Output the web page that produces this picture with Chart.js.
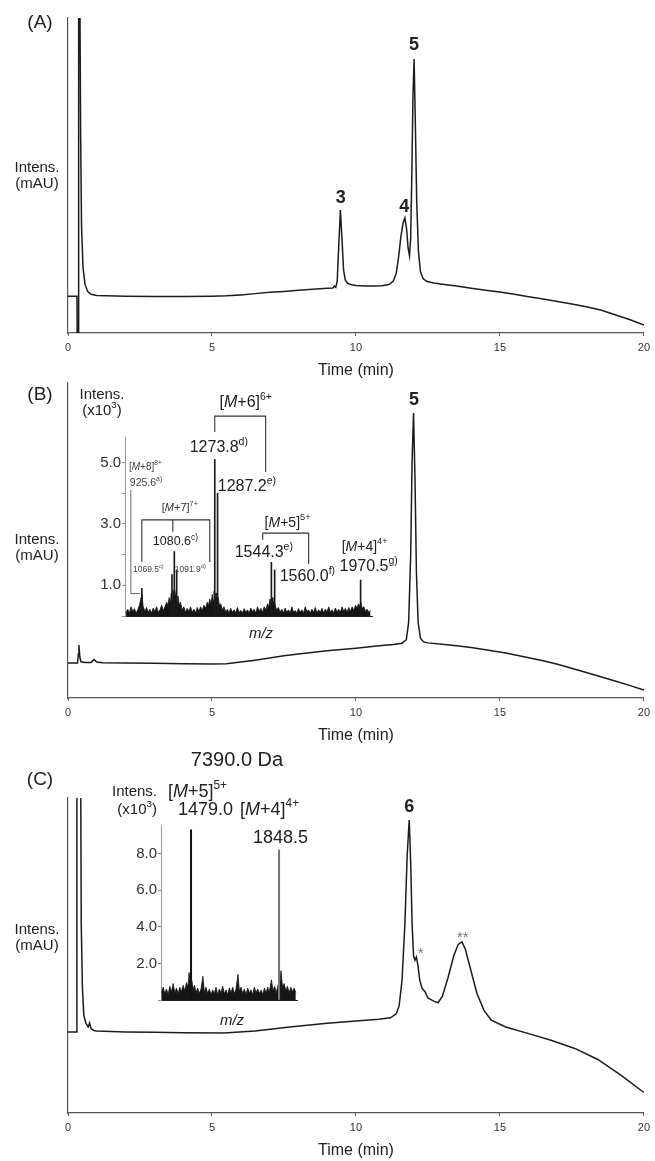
<!DOCTYPE html>
<html>
<head>
<meta charset="utf-8">
<script src="https://cdn.jsdelivr.net/npm/chart.js@4.4.0/dist/chart.umd.min.js"></script>
<style>
  html, body { margin: 0; padding: 0; background: #fff; }
  #wrap { position: relative; width: 655px; height: 1161px; overflow: hidden; }
  canvas { position: absolute; }
</style>
</head>
<body>
<div id="wrap">
  <canvas id="chromA"></canvas>
  <canvas id="chromB"></canvas>
  <canvas id="chromC"></canvas>
  <canvas id="specB"></canvas>
  <canvas id="specC"></canvas>
</div>
<script>
// ---- data ----
const timeTicks = [0, 5, 10, 15, 20];

// (A) UV trace, mAU in arbitrary units (0..100 = full axis height)
const timeA = [0, 0.31, 0.32, 0.35, 0.37, 0.41, 0.44, 0.47, 0.52, 0.59, 0.68, 0.8, 1.0, 2.0, 3.0, 4.0, 5.0, 5.5, 6.0, 6.5,
  7.0, 7.5, 8.0, 8.5, 9.0, 9.2, 9.25, 9.3, 9.35, 9.4, 9.46, 9.52, 9.57, 9.63, 9.72, 9.85, 10.0, 10.3, 10.6, 10.9,
  11.15, 11.3, 11.4, 11.48, 11.56, 11.64, 11.7, 11.76, 11.81, 11.86, 11.9, 11.94, 11.98, 12.02, 12.06, 12.11, 12.17, 12.24, 12.33, 12.45,
  12.7, 13.0, 13.5, 14.0, 14.5, 15.0, 15.5, 16.0, 16.5, 17.0, 17.5, 18.0, 18.5, 19.0, 19.5, 20.0];
const intensA = [11.7, 11.7, 0, 0, 110, 110, 62, 34, 21, 15.5, 13.2, 12.3, 11.9, 11.7, 11.6, 11.6, 11.7, 11.8, 12.1, 12.5,
  12.9, 13.2, 13.6, 13.9, 14.2, 14.3, 14.9, 14.5, 16.5, 27, 39, 29, 20, 16.8, 15.7, 15.3, 15.1, 14.9, 14.9, 15.0,
  15.4, 16.5, 19, 24, 30.5, 35, 36.5, 33, 27, 24.5, 30, 50, 75, 87, 68, 42, 26, 19.5, 17.3, 16.4,
  15.9, 15.5, 14.9, 14.2, 13.6, 13.0, 12.3, 11.5, 10.8, 10.0, 9.2, 8.3, 7.3, 5.8, 4.3, 2.5];

// (B)
const timeB = [0, 0.33, 0.36, 0.38, 0.41, 0.45, 0.6, 0.8, 0.9, 1.0, 1.2, 2.0, 3.0, 4.0, 5.0, 5.5, 6.0, 6.5, 7.0, 7.5,
  8.0, 9.0, 10.0, 10.8, 11.3, 11.6, 11.75, 11.83, 11.9, 11.95, 12.0, 12.05, 12.1, 12.16, 12.24, 12.35, 12.5, 13.0, 13.5, 14.0,
  14.5, 15.2, 16.0, 16.5, 17.0, 17.7, 18.3, 19.0, 19.5, 20.0];
const intensB = [11.1, 11.1, 14, 16.8, 13, 11.5, 11.3, 11.3, 12.2, 11.4, 11.2, 11.1, 11.0, 10.9, 10.8, 10.9, 11.4, 12.0, 12.7, 13.4,
  14.0, 15.0, 15.8, 16.6, 17.0, 17.4, 18.5, 24, 45, 75, 90.5, 70, 40, 24, 19, 17.8, 17.5, 17.1, 16.6, 16.0,
  15.3, 14.3, 12.8, 11.8, 10.7, 8.9, 7.3, 5.4, 4.0, 2.5];

// (C)
const timeC = [0, 0.30, 0.31, 0.44, 0.46, 0.5, 0.55, 0.62, 0.7, 0.75, 0.8, 0.9, 1.0, 2.0, 3.0, 4.0, 5.4, 6.5, 7.7, 9.0,
  10.0, 10.8, 11.2, 11.4, 11.5, 11.6, 11.7, 11.78, 11.85, 11.9, 11.95, 12.0, 12.05, 12.1, 12.15, 12.22, 12.3, 12.4, 12.5, 12.7,
  12.85, 13.0, 13.2, 13.4, 13.55, 13.68, 13.8, 14.0, 14.2, 14.45, 14.7, 15.2, 16.0, 16.8, 17.6, 18.4, 19.2, 20.0];
const intensC = [25.7, 25.7, 110, 110, 60, 40, 31, 28.5, 27.3, 28.6, 26.8, 26.2, 26.0, 25.7, 25.6, 25.5, 25.4, 26.0, 27.3, 28.5,
  29.2, 29.8, 30.2, 31.5, 34, 42, 60, 82, 93, 80, 60, 50, 48.5, 49.5, 47, 42, 39.5, 38.5, 36.5, 35.5,
  35, 37, 43, 50, 53.5, 54.3, 52, 45, 38, 32.5, 29.5, 27.3, 25.2, 23, 20.5, 17, 12, 6.5];

// inset (B) mass spectrum, intensity x10^3
const mzB = [925.6, 1069.5, 1080.6, 1091.9, 1273.8, 1287.2, 1544.3, 1560.0, 1970.5];
const relB = [0.9, 1.35, 2.1, 1.5, 5.1, 4.0, 1.75, 1.5, 1.17];
const noiseB = [[850, .12], [858, .22], [866, .1], [874, .3], [882, .15], [890, .24], [898, .1], [906, .2], [914, .35], [920, .55],
  [926, .7], [932, .3], [940, .15], [948, .28], [956, .12], [964, .22], [972, .1], [980, .26], [988, .14], [996, .3],
  [1004, .12], [1012, .2], [1020, .35], [1028, .18], [1036, .3], [1044, .45], [1050, .35], [1056, .6], [1062, .4], [1066, .75],
  [1070, .5], [1074, .85], [1078, .55], [1082, .9], [1086, .6], [1090, .8], [1094, .5], [1098, .65], [1104, .35], [1110, .45],
  [1118, .2], [1126, .3], [1134, .12], [1142, .25], [1150, .15], [1158, .3], [1166, .12], [1174, .22], [1182, .1], [1190, .28],
  [1198, .15], [1206, .3], [1214, .18], [1222, .35], [1230, .25], [1238, .45], [1244, .35], [1250, .55], [1256, .4], [1262, .7],
  [1266, .5], [1270, .8], [1276, .6], [1280, .75], [1284, .5], [1290, .6], [1296, .35], [1302, .4], [1310, .2], [1318, .3],
  [1326, .12], [1334, .22], [1342, .1], [1350, .25], [1358, .12], [1366, .2], [1374, .1], [1382, .28], [1390, .12], [1398, .18],
  [1406, .1], [1414, .24], [1422, .12], [1430, .2], [1438, .1], [1446, .26], [1454, .14], [1462, .22], [1470, .1], [1478, .3],
  [1486, .15], [1494, .25], [1502, .12], [1510, .3], [1518, .2], [1526, .4], [1532, .3], [1538, .55], [1542, .4], [1548, .6],
  [1552, .35], [1558, .5], [1564, .3], [1570, .2], [1578, .28], [1586, .12], [1594, .22], [1602, .1], [1610, .26], [1618, .12],
  [1626, .2], [1634, .1], [1642, .3], [1650, .12], [1658, .18], [1666, .1], [1674, .24], [1682, .12], [1690, .2], [1698, .1],
  [1706, .3], [1714, .14], [1722, .2], [1730, .1], [1738, .22], [1746, .12], [1754, .28], [1762, .1], [1770, .2], [1778, .12],
  [1786, .25], [1794, .1], [1802, .22], [1810, .14], [1818, .3], [1826, .12], [1834, .2], [1842, .1], [1850, .26], [1858, .14],
  [1866, .22], [1874, .12], [1882, .3], [1890, .15], [1898, .25], [1906, .12], [1914, .28], [1922, .15], [1930, .3], [1938, .18],
  [1946, .35], [1954, .25], [1960, .4], [1966, .3], [1972, .45], [1978, .25], [1986, .3], [1994, .15], [2002, .22], [2010, .12],
  [2018, .18]];
const ticksB = [0, 1, 2, 3, 4, 5];

// inset (C) mass spectrum, intensity x10^3
const mzC = [1479.0, 1848.5];
const relC = [9.3, 8.2];
const noiseC = [[1355, .4], [1362, .7], [1369, .35], [1376, .6], [1383, .3], [1390, .75], [1397, .45], [1404, .9], [1411, .4], [1418, .65],
  [1425, .35], [1432, .7], [1439, .45], [1446, .8], [1453, .5], [1460, .95], [1466, .7], [1471, 1.5], [1476, .9], [1482, 1.1],
  [1488, .6], [1494, .8], [1500, .4], [1507, .65], [1514, .35], [1521, .6], [1529, 1.3], [1535, .4], [1542, .7], [1549, .35],
  [1556, .6], [1563, .3], [1570, .55], [1577, .35], [1584, .7], [1591, .3], [1598, .6], [1605, .4], [1612, .75], [1619, .35],
  [1626, .55], [1633, .3], [1640, .65], [1647, .4], [1654, .7], [1661, .35], [1668, .6], [1676, 1.4], [1682, .5], [1689, .7],
  [1696, .35], [1703, .6], [1710, .3], [1717, .65], [1724, .4], [1731, .55], [1738, .3], [1745, .7], [1752, .4], [1759, .6],
  [1766, .35], [1773, .55], [1780, .3], [1787, .65], [1794, .4], [1801, .7], [1808, .45], [1817, 1.1], [1823, .5], [1830, .75],
  [1837, .4], [1844, .8], [1850, .6], [1857, 1.6], [1863, .7], [1870, .9], [1877, .5], [1884, .75], [1891, .4], [1898, .7],
  [1905, .45], [1912, .65], [1919, .4]];
const ticksC = [0, 2, 4, 6, 8];

// ---- drawing helpers ----
const FONT = '"Liberation Sans", Arial, Helvetica, sans-serif';
Chart.defaults.font.family = FONT;

// ~italic~ and ^superscript^
function parseRich(str) {
  const parts = [];
  let mode = '', buf = '';
  for (const ch of str) {
    if (ch === '~' || ch === '^') {
      if (buf) parts.push([buf, mode]);
      buf = '';
      const m = ch === '~' ? 'i' : 's';
      mode = mode === m ? '' : m;
    } else {
      buf += ch;
    }
  }
  if (buf) parts.push([buf, mode]);
  return parts;
}

function drawRich(ctx, str, x, y, o) {
  const size = o.size || 15;
  const parts = parseRich(str);
  const fontFor = m => (m === 'i' ? 'italic ' : '') + (o.bold ? 'bold ' : '') + (m === 's' ? size * 0.66 : size) + 'px ' + FONT;
  let w = 0;
  for (const [t, m] of parts) { ctx.font = fontFor(m); w += ctx.measureText(t).width; }
  let cx = o.align === 'left' ? x : o.align === 'right' ? x - w : x - w / 2;
  ctx.fillStyle = o.color || '#222';
  ctx.textAlign = 'left';
  ctx.textBaseline = 'middle';
  for (const [t, m] of parts) {
    ctx.font = fontFor(m);
    ctx.fillText(t, cx, m === 's' ? y - size * 0.36 : y);
    cx += ctx.measureText(t).width;
  }
}

// notes: text or bracket paths, either in data units or page pixels
function notesPlugin(notes, pos) {
  return {
    id: 'notes',
    afterDraw(chart) {
      const ctx = chart.ctx;
      const sx = chart.scales.x, sy = chart.scales.y;
      const toPx = (p, page) => page ? [p[0] - pos.left, p[1] - pos.top]
        : [sx.getPixelForValue(p[0]), sy.getPixelForValue(p[1])];
      ctx.save();
      for (const n of notes) {
        if (n.path) {
          ctx.beginPath();
          n.path.forEach((p, i) => {
            const [px, py] = toPx(p, n.page);
            if (i) ctx.lineTo(px, py); else ctx.moveTo(px, py);
          });
          ctx.strokeStyle = n.color || '#333';
          ctx.lineWidth = n.width || 1.1;
          ctx.stroke();
        } else {
          const [px, py] = toPx(n.at, n.page);
          drawRich(ctx, n.text, px, py, n);
        }
      }
      ctx.restore();
    }
  };
}

function place(cv, pos) {
  cv.width = pos.width;
  cv.height = pos.height;
  cv.style.left = pos.left + 'px';
  cv.style.top = pos.top + 'px';
}

function chromatogram(id, pos, times, values, notes) {
  const cv = document.getElementById(id);
  place(cv, pos);
  return new Chart(cv, {
    type: 'line',
    data: {
      datasets: [{
        data: times.map((t, i) => ({ x: t, y: values[i] })),
        borderColor: '#1c1c1c',
        borderWidth: 1.5,
        pointRadius: 0,
        tension: 0,
        fill: false
      }]
    },
    options: {
      responsive: false,
      animation: false,
      events: [],
      layout: { padding: { top: pos.padTop, right: 7, left: 0, bottom: 0 } },
      plugins: { legend: { display: false }, tooltip: { enabled: false } },
      scales: {
        x: {
          type: 'linear',
          min: 0,
          max: 20,
          afterBuildTicks: s => { s.ticks = timeTicks.map(v => ({ value: v })); },
          afterFit: s => { s.height = 52; },
          grid: { drawOnChartArea: false, tickLength: 3, color: '#666' },
          border: { color: '#555', width: 1.2 },
          ticks: { color: '#333', font: { size: 11 }, padding: 5, maxRotation: 0, autoSkip: false, callback: v => String(v) },
          title: { display: true, text: 'Time (min)', color: '#222', font: { size: 16 }, padding: { top: 0, bottom: 5 } }
        },
        y: {
          min: 0,
          max: 100,
          afterFit: s => { s.width = 68; },
          grid: { display: false },
          border: { color: '#555', width: 1.2 },
          ticks: { display: false }
        }
      }
    },
    plugins: [notesPlugin(notes, pos)]
  });
}

function spectrum(id, pos, mz, rel, stickColors, stickWidth, noise, range, ticks, tickLabel, notes) {
  const cv = document.getElementById(id);
  place(cv, pos);
  return new Chart(cv, {
    type: 'line',
    data: {
      datasets: [
        {
          type: 'bar',
          data: mz.map((m, i) => ({ x: m, y: rel[i] })),
          backgroundColor: stickColors,
          barThickness: stickWidth,
          order: 1
        },
        {
          type: 'line',
          data: noise.map(p => ({ x: p[0], y: p[1] })),
          borderColor: '#151515',
          backgroundColor: '#151515',
          borderWidth: 0.8,
          pointRadius: 0,
          tension: 0,
          fill: 'origin',
          order: 2
        }
      ]
    },
    options: {
      responsive: false,
      animation: false,
      events: [],
      layout: { padding: { top: pos.padTop, right: pos.padRight, left: 0, bottom: 0 } },
      plugins: { legend: { display: false }, tooltip: { enabled: false } },
      scales: {
        x: {
          type: 'linear',
          min: range.mzMin,
          max: range.mzMax,
          offset: false,
          afterFit: s => { s.height = pos.xHeight; },
          grid: { display: false, offset: false },
          border: { color: '#222', width: 1 },
          ticks: { display: false }
        },
        y: {
          min: 0,
          max: range.yMax,
          afterBuildTicks: s => { s.ticks = ticks.map(v => ({ value: v })); },
          afterFit: s => { s.width = pos.yWidth; },
          grid: { drawOnChartArea: false, tickLength: 3, color: '#888' },
          border: { color: '#999', width: 1 },
          ticks: { color: '#333', font: { size: 15 }, padding: 1, callback: tickLabel }
        }
      }
    },
    plugins: [notesPlugin(notes, pos)]
  });
}

// ---- panels ----
const posA = { left: 0, top: 0, width: 655, height: 385, padTop: 18 };
chromatogram('chromA', posA, timeA, intensA, [
  { text: '(A)', at: [40, 23], page: true, size: 19 },
  { text: 'Intens.', at: [37, 168], page: true, size: 15 },
  { text: '(mAU)', at: [37, 184], page: true, size: 15 },
  { text: '3', at: [9.47, 42.8], size: 18, bold: true },
  { text: '4', at: [11.68, 40], size: 18, bold: true },
  { text: '5', at: [12.02, 91.4], size: 18, bold: true }
]);

const posB = { left: 0, top: 355, width: 655, height: 395, padTop: 28 };
chromatogram('chromB', posB, timeB, intensB, [
  { text: '(B)', at: [40, 395], page: true, size: 19 },
  { text: 'Intens.', at: [37, 540], page: true, size: 15 },
  { text: '(mAU)', at: [37, 556], page: true, size: 15 },
  { text: '5', at: [12.02, 94.6], size: 18, bold: true }
]);

const posC = { left: 0, top: 750, width: 655, height: 415, padTop: 48 };
chromatogram('chromC', posC, timeC, intensC, [
  { text: '(C)', at: [40, 780], page: true, size: 19 },
  { text: 'Intens.', at: [37, 930], page: true, size: 15 },
  { text: '(mAU)', at: [37, 946], page: true, size: 15 },
  { text: '6', at: [11.85, 97.1], size: 18, bold: true },
  { text: '*', at: [12.25, 50.5], size: 15, color: '#777' },
  { text: '**', at: [13.71, 55.6], size: 15, color: '#777' }
]);

const posSB = { left: 60, top: 380, width: 360, height: 270, padTop: 57, padRight: 48, yWidth: 65, xHeight: 34 };
spectrum('specB', posSB, mzB, relB, '#1a1a1a', 1, noiseB, { mzMin: 845, mzMax: 2025, yMax: 5.83 }, ticksB,
  v => (v % 2 === 1 ? v.toFixed(1) : ''), [
  { text: 'Intens.', at: [102, 395], page: true, size: 15 },
  { text: '(x10^3^)', at: [102, 411], page: true, size: 15 },
  { text: '~m/z~', at: [261, 634], page: true, size: 15 },
  { text: '[~M~+6]^6+^', at: [1422, 6.94], size: 16 },
  { path: [[1273.8, 5.99], [1273.8, 6.51], [1517, 6.51], [1517, 4.69]] },
  { text: '1273.8^d)^', at: [1154, 5.47], size: 16, align: 'left' },
  { text: '1287.2^e)^', at: [1288, 4.2], size: 16, align: 'left' },
  { text: '[~M~+8]^8+^', at: [864, 4.85], size: 10, align: 'left', color: '#444' },
  { text: '925.6^a)^', at: [868, 4.33], size: 10.5, align: 'left', color: '#444' },
  { path: [[873, 4.1], [873, 0.73], [916, 0.73]], color: '#666', width: 1 },
  { text: '[~M~+7]^7+^', at: [1107, 3.52], size: 11, color: '#333' },
  { path: [[925.6, 1.76], [925.6, 3.13], [1250, 3.13], [1250, 1.76]] },
  { path: [[1073.5, 3.13], [1073.5, 2.74]] },
  { text: '1080.6^c)^', at: [978, 2.41], size: 12.5, align: 'left' },
  { text: '1069.5^c)^', at: [883, 1.5], size: 8.5, align: 'left', color: '#444' },
  { text: '1091.9^d)^', at: [1083, 1.5], size: 8.5, align: 'left', color: '#444' },
  { text: '[~M~+5]^5+^', at: [1512, 3.03], size: 14, align: 'left' },
  { path: [[1503, 2.48], [1503, 2.7], [1722.4, 2.7], [1722.4, 1.69]] },
  { text: '1544.3^e)^', at: [1369, 2.05], size: 16, align: 'left' },
  { text: '1560.0^f)^', at: [1584, 1.27], size: 16, align: 'left' },
  { text: '[~M~+4]^4+^', at: [1880, 2.25], size: 14, align: 'left' },
  { text: '1970.5^g)^', at: [1870, 1.6], size: 16, align: 'left' }
]);

const posSC = { left: 60, top: 740, width: 300, height: 300, padTop: 85, padRight: 63, yWidth: 101, xHeight: 40 };
spectrum('specC', posSC, mzC, relC, ['#111', '#777'], 1.4, noiseC, { mzMin: 1353, mzMax: 1924, yMax: 9.56 }, ticksC,
  v => (v ? v.toFixed(1) : ''), [
  { text: '7390.0 Da', at: [1672, 13.06], size: 20 },
  { text: 'Intens.', at: [157, 792], page: true, size: 15, align: 'right' },
  { text: '(x10^3^)', at: [157, 810], page: true, size: 15, align: 'right' },
  { text: '~m/z~', at: [232, 1021], page: true, size: 15 },
  { text: '[~M~+5]^5+^', at: [1382, 11.37], size: 18, align: 'left' },
  { text: '1479.0', at: [1424, 10.38], size: 18, align: 'left' },
  { text: '[~M~+4]^4+^', at: [1685, 10.38], size: 18, align: 'left' },
  { text: '1848.5', at: [1739.5, 8.85], size: 18, align: 'left' }
]);
</script>
</body>
</html>
